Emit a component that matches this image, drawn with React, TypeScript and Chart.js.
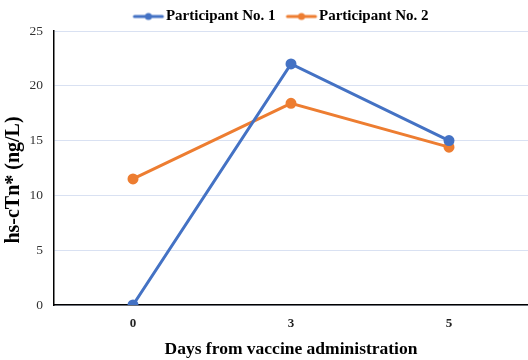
import React, { useEffect, useRef } from "react";
import { Chart, registerables } from "chart.js";

Chart.register(...registerables);

const categories = ["0", "3", "5"];
const participant1 = [0, 22, 15];
const participant2 = [11.5, 18.4, 14.4];
const yTicks = [0, 5, 10, 15, 20, 25];
const yTitle = "hs-cTn* (ng/L)";
const xTitle = "Days from vaccine administration";

const BLUE = "#4472C4";
const ORANGE = "#ED7D31";
const SERIF = "'Liberation Serif', 'Times New Roman', serif";

function legendIcon(color: string) {
  const c = document.createElement("canvas");
  c.width = 60;
  c.height = 10;
  const ctx = c.getContext("2d")!;
  ctx.strokeStyle = color;
  ctx.lineWidth = 3;
  ctx.lineCap = "round";
  ctx.beginPath();
  ctx.moveTo(21, 5);
  ctx.lineTo(49, 5);
  ctx.stroke();
  ctx.fillStyle = color;
  ctx.beginPath();
  ctx.arc(35, 5, 3.5, 0, Math.PI * 2);
  ctx.fill();
  return c;
}

const shiftLegend = {
  id: "shiftLegend",
  afterLayout(chart: any) {
    const lg = chart.legend;
    if (lg) {
      lg.left += 11;
      lg.right += 11;
      lg.top += 3;
      lg.bottom += 3;
    }
  },
};

const yTitlePlugin = {
  id: "yTitlePlugin",
  afterDraw(chart: any) {
    const ctx = chart.ctx;
    ctx.save();
    ctx.translate(14, 180);
    ctx.rotate(-Math.PI / 2);
    ctx.font = `bold 20px ${SERIF}`;
    ctx.fillStyle = "#000";
    ctx.textAlign = "center";
    ctx.textBaseline = "middle";
    ctx.fillText(yTitle, 0, 0);
    ctx.restore();
  },
};

export default function App() {
  const ref = useRef<HTMLCanvasElement>(null);
  useEffect(() => {
    if (!ref.current) return;
    const icons = [legendIcon(BLUE), legendIcon(ORANGE)];
    const chart = new Chart(ref.current, {
      type: "line",
      plugins: [shiftLegend, yTitlePlugin],
      data: {
        labels: categories,
        datasets: [
          {
            label: "Participant No. 1",
            data: participant1,
            borderColor: BLUE,
            backgroundColor: BLUE,
            borderWidth: 3,
            pointRadius: 4,
            pointHoverRadius: 4,
            tension: 0,
          },
          {
            label: "Participant No. 2",
            data: participant2,
            borderColor: ORANGE,
            backgroundColor: ORANGE,
            borderWidth: 3,
            pointRadius: 4,
            pointHoverRadius: 4,
            tension: 0,
          },
        ],
      },
      options: {
        animation: false,
        responsive: false,
        layout: { padding: { left: 0, right: 0, top: 0, bottom: 0 } },
        plugins: {
          tooltip: { enabled: false },
          legend: {
            position: "top",
            labels: {
              usePointStyle: true,
              pointStyleWidth: 30,
              boxHeight: 10,
              padding: 6,
              color: "#000",
              font: { family: SERIF, size: 15, weight: "bold" },
              generateLabels: (chart: any) =>
                chart.data.datasets.map((ds: any, i: number) => ({
                  text: ds.label,
                  fillStyle: ds.borderColor,
                  strokeStyle: ds.borderColor,
                  lineWidth: 0,
                  pointStyle: icons[i],
                  datasetIndex: i,
                  hidden: false,
                  fontColor: "#000",
                })),
            },
          },
        },
        scales: {
          x: {
            type: "category",
            offset: true,
            grid: { display: false, drawTicks: false },
            border: { display: true, color: "#000", width: 1.5 },
            afterFit: (s: any) => {
              s.paddingLeft = 0;
              s.paddingRight = 0;
              s.height = 55;
            },
            ticks: {
              color: "#222",
              padding: 11,
              font: { family: SERIF, size: 13, weight: "bold" },
            },
            title: {
              display: true,
              text: xTitle,
              color: "#000",
              font: { family: SERIF, size: 17.5, weight: "bold" },
              padding: { top: 8, bottom: 0 },
            },
          },
          y: {
            min: 0,
            max: 25,
            afterBuildTicks: (axis: any) => {
              axis.ticks = yTicks.map((v) => ({ value: v }));
            },
            afterFit: (s: any) => {
              s.width = 54;
            },
            grid: { color: "#D9E1F2", lineWidth: 1, drawTicks: false },
            border: { display: true, color: "#000", width: 1.5 },
            ticks: {
              color: "#333",
              padding: 11,
              font: { family: SERIF, size: 13.5 },
            },
            title: { display: false, text: yTitle },
          },
        },
      },
    });
    return () => chart.destroy();
  }, []);
  return (
    <div
      style={{
        position: "fixed",
        left: 0,
        top: 0,
        width: 528,
        height: 360,
        overflow: "hidden",
        background: "#fff",
      }}
    >
      <canvas ref={ref} width={535} height={360} style={{ display: "block" }} />
    </div>
  );
}
